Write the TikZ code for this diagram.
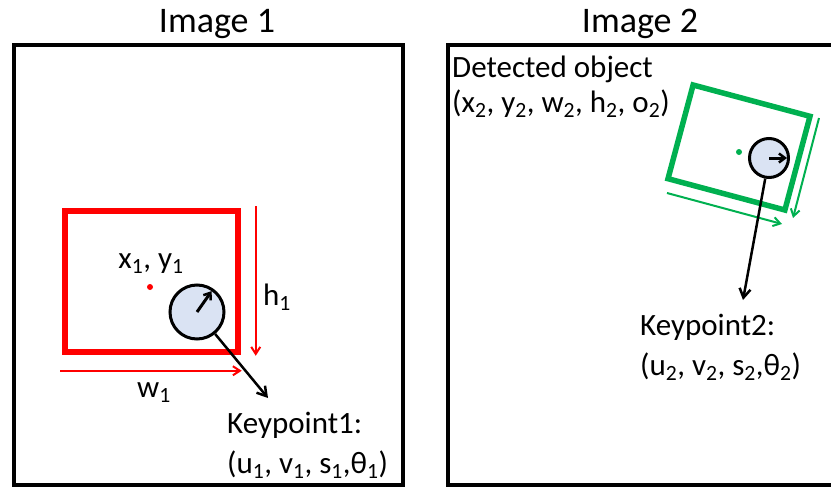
\documentclass[tikz,border=0pt]{standalone}
\usepackage{fontspec}
\setmainfont{Carlito}
\usetikzlibrary{arrows.meta,positioning}

\definecolor{boxred}{HTML}{FF0000}
\definecolor{boxgreen}{HTML}{00B050}
\definecolor{kpfill}{HTML}{DAE3F3}

\begin{document}
\begin{tikzpicture}[
  x=1pt,y=-1pt,
  frame/.style={draw=black,line width=4.5pt},
  title/.style={anchor=base,inner sep=0pt,font=\fontsize{36}{40}\selectfont},
  label/.style={anchor=base west,inner sep=0pt,font=\fontsize{31}{36}\selectfont},
  objbox/.style={draw,line width=5.5pt,minimum width=#1,inner sep=0pt},
  kpcircle/.style={circle,draw=black,line width=3pt,fill=kpfill,
    minimum size=#1,inner sep=0pt},
  centre/.style={circle,inner sep=0pt,minimum size=6pt},
  dim/.style={-{Straight Barb[length=7pt,width=9pt,line width=2pt]},line width=2pt},
  match/.style={-{Straight Barb[length=9pt,width=11pt,line width=2.5pt]},line width=2.5pt},
  orient/.style={-{Straight Barb[length=6pt,width=9pt,line width=2.5pt]},
    line width=3pt,shorten >=3pt}
]
  \useasboundingbox (0,0) rectangle (831,488);

  % image frames
  \draw[frame] (14,45) rectangle (403,485);
  \draw[frame] (831,45) -- (448,45) -- (448,485) -- (831,485);
  \node[title] (title-one) at (217,32) {Image 1};
  \node[title] (title-two) at (640,32) {Image 2};

  % image 1
  \node[objbox=173pt,draw=boxred,minimum height=141pt] (box-one) at (151.5,281.5) {};
  \node[centre,fill=boxred] (ctr-one) at (150,287) {};
  \node[label,anchor=base] (xy-one) at (151,268) {x\textsubscript{1}, y\textsubscript{1}};
  \coordinate (h-top) at ([xshift=15pt,yshift=2pt]box-one.north east);
  \coordinate (h-bot) at ([xshift=15pt,yshift=-1pt]box-one.south east);
  \coordinate (w-left) at ([xshift=-2pt,yshift=-16pt]box-one.south west);
  \coordinate (w-right) at ([xshift=1pt,yshift=-16pt]box-one.south east);
  \draw[dim,boxred] (h-top) -- (h-bot);
  \draw[dim,boxred] (w-left) -- (w-right);
  \node[label] (h-one) at (263,305) {h\textsubscript{1}};
  \node[label] (w-one) at (137,397) {w\textsubscript{1}};

  \node[kpcircle=54pt] (kp-one) at (197,312) {};
  \draw[orient] (kp-one.center) -- (kp-one.55);
  \coordinate (kp-one-tip) at (268,398);
  \draw[match] (kp-one) -- (kp-one-tip);
  \node[label] (kp-one-name) at (227,433) {Keypoint1:};
  \node[label] (kp-one-par) at (227,473)
    {(u\textsubscript{1}, v\textsubscript{1}, s\textsubscript{1},θ\textsubscript{1})};

  % image 2
  \node[label] (obj-name) at (452,77) {Detected object};
  \node[label] (obj-par) at (452,112)
    {(x\textsubscript{2}, y\textsubscript{2}, w\textsubscript{2}, h\textsubscript{2}, o\textsubscript{2})};

  \node[objbox=121pt,draw=boxgreen,minimum height=97pt,rotate=-15] (box-two) at (739,147.5) {};
  \node[centre,fill=boxgreen] (ctr-two) at (739,152) {};
  \coordinate (w2-left) at (667,193);
  \coordinate (w2-right) at (782,224);
  \coordinate (h2-top) at (819,118);
  \coordinate (h2-bot) at (793,218);
  \draw[dim,boxgreen] (w2-left) -- (w2-right);
  \draw[dim,boxgreen] (h2-top) -- (h2-bot);

  \node[kpcircle=39pt] (kp-two) at (769,158) {};
  \draw[orient] (kp-two.center) -- (kp-two.0);
  \coordinate (kp-two-tip) at (743,300);
  \draw[match] (kp-two) -- (kp-two-tip);
  \node[label] (kp-two-name) at (640,335) {Keypoint2:};
  \node[label] (kp-two-par) at (640,375)
    {(u\textsubscript{2}, v\textsubscript{2}, s\textsubscript{2},θ\textsubscript{2})};
\end{tikzpicture}
\end{document}
